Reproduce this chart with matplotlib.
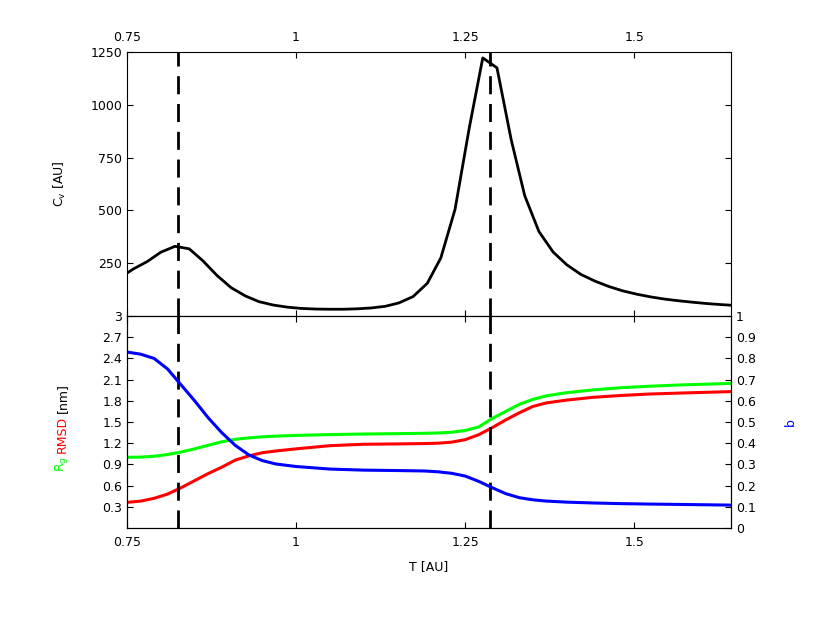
import matplotlib
matplotlib.use('Agg')
import matplotlib.pyplot as plt

# heat capacity curve
T_cv = [0.750, 0.759, 0.780, 0.800, 0.821, 0.842, 0.862, 0.883, 0.904, 0.925,
        0.945, 0.966, 0.987, 1.007, 1.028, 1.049, 1.069, 1.090, 1.111, 1.132,
        1.152, 1.173, 1.194, 1.214, 1.235, 1.256, 1.276, 1.297, 1.318, 1.338,
        1.359, 1.380, 1.400, 1.421, 1.442, 1.463, 1.483, 1.504, 1.525, 1.545,
        1.566, 1.587, 1.607, 1.628, 1.649]
Cv = [203, 222, 258, 302, 330, 318, 262, 192, 134, 95,
      68, 52, 42, 36, 33, 32, 32, 34, 38, 46,
      62, 92, 155, 275, 505, 890, 1222, 1175, 835, 570,
      400, 303, 243, 197, 165, 139, 119, 103, 90, 80,
      72, 65, 59, 54, 50]

# structural observables
T_s = [0.75, 0.77, 0.79, 0.81, 0.83, 0.85, 0.87, 0.89, 0.91, 0.93,
       0.95, 0.97, 1.00, 1.05, 1.10, 1.15, 1.19, 1.21, 1.23, 1.25,
       1.27, 1.29, 1.31, 1.33, 1.35, 1.37, 1.40, 1.44, 1.48, 1.52,
       1.57, 1.643]
Rg = [1.00, 1.003, 1.015, 1.04, 1.075, 1.12, 1.17, 1.22, 1.255, 1.275,
      1.29, 1.30, 1.31, 1.322, 1.33, 1.335, 1.34, 1.345, 1.355, 1.38,
      1.43, 1.55, 1.65, 1.75, 1.82, 1.87, 1.915, 1.955, 1.985, 2.005,
      2.025, 2.046]
RMSD = [0.363, 0.38, 0.42, 0.48, 0.57, 0.67, 0.77, 0.86, 0.96, 1.02,
        1.065, 1.09, 1.12, 1.165, 1.185, 1.19, 1.195, 1.20, 1.215, 1.25,
        1.32, 1.42, 1.53, 1.63, 1.72, 1.77, 1.81, 1.85, 1.875, 1.895,
        1.91, 1.93]
b = [0.83, 0.82, 0.80, 0.75, 0.675, 0.60, 0.52, 0.45, 0.39, 0.345,
     0.318, 0.302, 0.29, 0.278, 0.273, 0.271, 0.269, 0.265, 0.258, 0.245,
     0.22, 0.19, 0.162, 0.143, 0.133, 0.127, 0.122, 0.118, 0.115, 0.113,
     0.111, 0.108]

T_trans = [0.825, 1.286]

x_ticks = [0.75, 1.0, 1.25, 1.5]
x_labels = ['0.75', '1', '1.25', '1.5']
cv_ticks = [250, 500, 750, 1000, 1250]
s_ticks = [0.3, 0.6, 0.9, 1.2, 1.5, 1.8, 2.1, 2.4, 2.7, 3.0]
s_labels = ['0.3', '0.6', '0.9', '1.2', '1.5', '1.8', '2.1', '2.4', '2.7', '3']
b_ticks = [0, 0.1, 0.2, 0.3, 0.4, 0.5, 0.6, 0.7, 0.8, 0.9, 1.0]
b_labels = ['0', '0.1', '0.2', '0.3', '0.4', '0.5', '0.6', '0.7', '0.8', '0.9', '1']

plt.rcParams['font.size'] = 9
plt.rcParams['xtick.direction'] = 'in'
plt.rcParams['ytick.direction'] = 'in'
plt.rcParams['xtick.major.size'] = 4
plt.rcParams['ytick.major.size'] = 4

W, H = 830, 642
fig = plt.figure(figsize=(W/100, H/100), dpi=100)
ax1 = fig.add_axes([127/W, 1-316/H, 604/W, (316-52)/H])
ax2 = fig.add_axes([127/W, 1-528/H, 604/W, (528-316)/H], sharex=ax1)
ax3 = ax2.twinx()

ax1.plot(T_cv, Cv, color='black', lw=2)
ax1.set_ylim(0, 1250)
ax1.set_yticks(cv_ticks)
ax1.set_xlim(0.75, 1.643)
ax1.set_xticks(x_ticks)
ax1.set_xticklabels(x_labels)
ax1.tick_params(axis='x', top=True, bottom=True, labeltop=True, labelbottom=False, pad=6)
ax1.tick_params(axis='y', left=True, right=True)
ax1.set_ylabel('C$_{\\rm v}$ [AU]')
ax1.yaxis.set_label_coords(-0.097, 0.5)

ax2.plot(T_s, RMSD, color='#ff0000', lw=2.2)
ax2.plot(T_s, Rg, color='#00ff00', lw=2.2)
ax3.plot(T_s, b, color='#0000ff', lw=2.2)
ax2.set_ylim(0, 3)
ax2.set_yticks(s_ticks)
ax2.set_yticklabels(s_labels)
ax2.tick_params(axis='x', top=True, bottom=True, pad=6)
ax2.set_xlabel('T [AU]', labelpad=8)
ax3.set_ylim(0, 1)
ax3.set_yticks(b_ticks)
ax3.set_yticklabels(b_labels)
ax3.set_ylabel('b', color='#0000ff')
ax3.yaxis.set_label_coords(1.087, 0.5)

for ax in (ax1, ax2):
    for t in T_trans:
        ax.axvline(t, color='black', lw=2, dashes=(6.5, 3.5))

# multi-coloured y label of the lower panel
fig.canvas.draw()
r = fig.canvas.get_renderer()
pieces = [('R$_{\\rm g}$', '#00ff00'), ('RMSD', '#ff0000'), ('[nm]', 'black')]
ypix = 472
for txt, col in pieces:
    t = fig.text(62/W, 1-ypix/H, txt, color=col, rotation=90, ha='center', va='bottom')
    bb = t.get_window_extent(r)
    ypix = ypix - bb.height - 3

fig.savefig('out.png', dpi=100)
